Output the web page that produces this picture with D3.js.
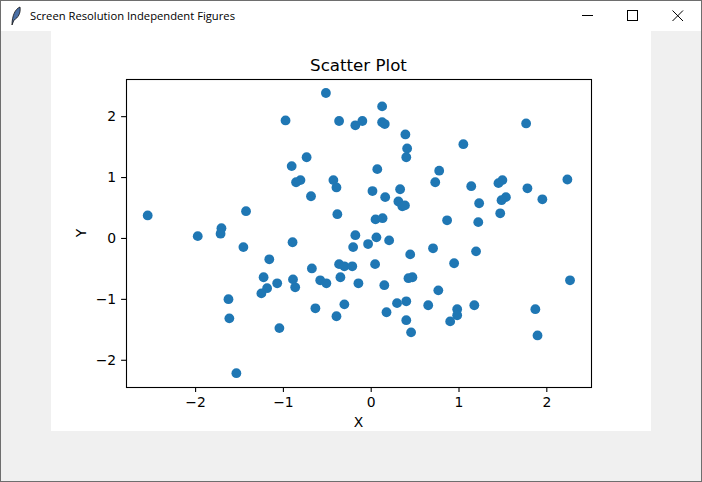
<!DOCTYPE html>
<html>
<head>
<meta charset="utf-8">
<script src="https://cdn.jsdelivr.net/npm/d3@7"></script>
<style>
html,body{margin:0;padding:0;background:#f0f0f0;overflow:hidden}
svg{display:block}
text{font-family:"DejaVu Sans",sans-serif;fill:#000}
</style>
</head>
<body>
<svg id="c" width="702" height="482"></svg>
<script>
const windowTitle = "Screen Resolution Independent Figures";
const chartTitle = "Scatter Plot";
const xLabel = "X";
const yLabel = "Y";
const xTicks = [-2, -1, 0, 1, 2];
const yTicks = [-2, -1, 0, 1, 2];
const xDomain = [-2.787, 2.509];
const yDomain = [-2.447, 2.61];
const xValues = [
 -2.54,-1.97,-1.70,-1.71,-1.42,-0.97,-0.51,-0.36,-0.175,-0.095,-0.73,-0.90,-0.80,-0.85,-0.425,-0.39,-0.68,-0.38,-0.175,-0.89,
 0.13,0.13,0.16,0.395,0.415,0.405,1.055,1.77,0.075,0.78,0.735,1.145,1.50,1.455,2.24,1.785,1.955,1.54,1.49,1.235,
 1.475,1.225,0.87,0.02,0.165,0.335,0.315,0.36,0.39,0.055,0.135,0.065,0.21,-0.03,-0.20,0.45,0.71,1.20,0.95,0.05,
 0.475,0.43,2.27,-0.14,0.155,0.77,0.30,0.405,0.655,1.18,0.985,0.985,0.905,1.875,1.90,0.18,0.405,0.46,-1.45,-1.155,
 -1.22,-1.18,-1.245,-1.065,-0.885,-0.86,-0.67,-0.575,-0.505,-0.36,-0.30,-0.21,-0.345,-0.63,-0.30,-0.39,-1.62,-1.61,-1.04,-1.53
];
const yValues = [
 0.37,0.03,0.16,0.07,0.44,1.93,2.38,1.92,1.85,1.92,1.325,1.18,0.95,0.915,0.95,0.83,0.685,0.39,0.045,-0.07,
 2.16,1.90,1.87,1.70,1.47,1.325,1.54,1.88,1.13,1.105,0.915,0.85,0.95,0.90,0.96,0.815,0.635,0.67,0.62,0.57,
 0.405,0.26,0.29,0.77,0.67,0.80,0.60,0.52,0.535,0.305,0.325,0.01,-0.04,-0.10,-0.15,-0.27,-0.17,-0.22,-0.415,-0.43,
 -0.645,-0.66,-0.695,-0.745,-0.775,-0.86,-1.07,-1.04,-1.105,-1.105,-1.17,-1.27,-1.37,-1.17,-1.60,-1.22,-1.35,-1.55,-0.15,-0.35,
 -0.645,-0.825,-0.91,-0.745,-0.68,-0.81,-0.50,-0.695,-0.745,-0.43,-0.465,-0.465,-0.645,-1.155,-1.09,-1.285,-1.005,-1.32,-1.48,-2.22
];

const svg = d3.select("#c");
svg.append("rect").attr("x",0.5).attr("y",0.5).attr("width",701).attr("height",481)
  .attr("fill","#f0f0f0").attr("stroke","#6e6e6e");
svg.append("rect").attr("x",1).attr("y",1).attr("width",700).attr("height",30).attr("fill","#fff");
svg.append("text").attr("x",30).attr("y",20).text(windowTitle)
  .style("font-family",'"Open Sans","Noto Sans",sans-serif').style("font-size","11.5px")
  .attr("textLength",205).attr("lengthAdjust","spacingAndGlyphs");
svg.append("path").attr("d","M12 25 C12 16 15 9 20 7 C21 13 18 18 14 20 L12 25 Z")
  .attr("fill","#4a6fa5").attr("stroke","#111").attr("stroke-width",0.8);
const chrome = svg.append("g").attr("fill","none").attr("stroke","#000").attr("stroke-width",1);
chrome.append("path").attr("d","M582 15.5H593");
chrome.append("rect").attr("x",627.5).attr("y",10.5).attr("width",10).attr("height",10);
chrome.append("path").attr("d","M672.5 10.5L683 21M683 10.5L672.5 21");
svg.append("rect").attr("x",51).attr("y",31).attr("width",600).attr("height",400).attr("fill","#fff");

const left=126,right=591,top_=79,bottom=387;
const x = d3.scaleLinear().domain(xDomain).range([left,right]);
const y = d3.scaleLinear().domain(yDomain).range([bottom,top_]);
const fmt = d => String(d).replace("-","\u2212");

const gx = svg.append("g").attr("transform",`translate(0,${bottom})`)
  .call(d3.axisBottom(x).tickValues(xTicks).tickFormat(fmt).tickSize(4.9).tickPadding(4.9));
const gy = svg.append("g").attr("transform",`translate(${left},0)`)
  .call(d3.axisLeft(y).tickValues(yTicks).tickFormat(fmt).tickSize(4.9).tickPadding(4.9));
[gx,gy].forEach(g=>{
  g.select(".domain").remove();
  g.selectAll("line").attr("stroke","#000").attr("stroke-width",1.1);
  g.selectAll("text").style("font-family",'"DejaVu Sans"').style("font-size","13.9px").attr("fill","#000");
});

svg.append("g").selectAll("circle").data(xValues.map((v,i)=>[v,yValues[i]])).join("circle")
  .attr("cx",d=>x(d[0])).attr("cy",d=>y(d[1])).attr("r",4.9).attr("fill","#1f77b4");

svg.append("rect").attr("x",left+0.5).attr("y",top_+0.5).attr("width",right-left).attr("height",bottom-top_)
  .attr("fill","none").attr("stroke","#000").attr("stroke-width",1.1);

svg.append("text").attr("x",(left+right)/2).attr("y",71).attr("text-anchor","middle")
  .style("font-size","16.67px").text(chartTitle);
svg.append("text").attr("x",(left+right)/2).attr("y",427).attr("text-anchor","middle")
  .style("font-size","13.9px").text(xLabel);
svg.append("text").attr("transform",`translate(86,${(top_+bottom)/2}) rotate(-90)`).attr("text-anchor","middle")
  .style("font-size","13.9px").text(yLabel);
</script>
</body>
</html>
